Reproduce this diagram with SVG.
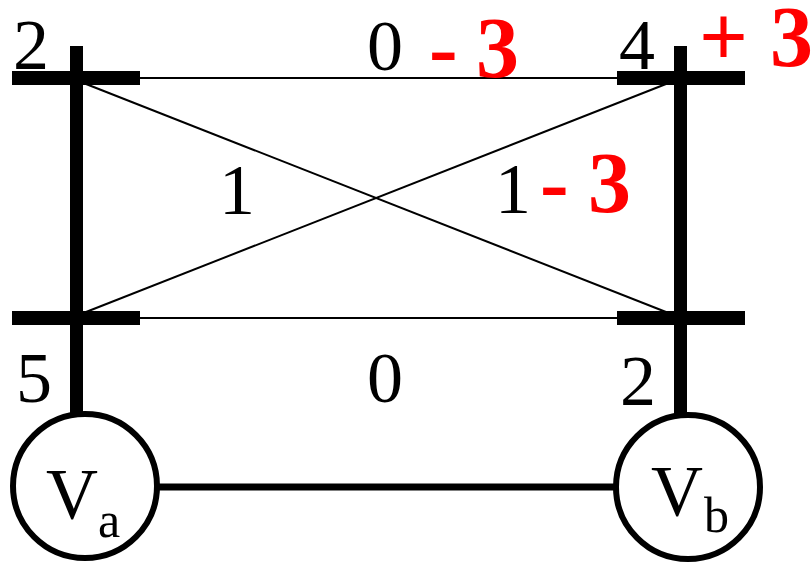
<svg xmlns="http://www.w3.org/2000/svg" width="812" height="562" viewBox="0 0 812 562">
<style>
.n{font-family:"Liberation Serif","Times New Roman",serif;font-size:72px;fill:#000}
.r{font-family:"Liberation Serif","Times New Roman",serif;font-size:86px;font-weight:bold;fill:#ff0000}
.s{font-family:"Liberation Serif","Times New Roman",serif;font-size:50px;fill:#000}
.bar{fill:#000}
.thin{stroke:#000;stroke-width:2;fill:none}
.circ{fill:#fff;stroke:#000;stroke-width:6}
</style>
<rect width="812" height="562" fill="#fff"/>
<g id="connectors">
<line class="thin" x1="140" y1="78" x2="617" y2="78"/>
<line class="thin" x1="140" y1="318" x2="617" y2="318"/>
<line class="thin" x1="86" y1="84" x2="666" y2="312"/>
<line class="thin" x1="86" y1="312" x2="666" y2="84"/>
<rect class="bar" x="70" y="46" width="13" height="368"/>
<rect class="bar" x="674" y="46" width="13" height="368"/>
<line x1="158" y1="487" x2="615" y2="487" stroke="#000" stroke-width="7"/>
</g>
<g id="bus-top-left"><rect class="bar" x="12" y="71" width="128" height="14"/></g>
<g id="bus-bottom-left"><rect class="bar" x="12" y="311" width="128" height="14"/></g>
<g id="bus-top-right"><rect class="bar" x="617" y="71" width="128" height="14"/></g>
<g id="bus-bottom-right"><rect class="bar" x="617" y="311" width="128" height="14"/></g>
<g id="node-va">
<circle class="circ" cx="85" cy="486" r="72"/>
<text class="n" x="46" y="518">V</text><text class="s" x="98" y="537">a</text>
</g>
<g id="node-vb">
<circle class="circ" cx="688" cy="487" r="72"/>
<text class="n" x="651" y="515">V</text><text class="s" x="704" y="532">b</text>
</g>
<g id="labels">
<text class="n" x="13" y="69">2</text>
<text class="n" x="367" y="70">0</text>
<text class="r" x="429" y="77">-</text>
<text class="r" x="476" y="77">3</text>
<text class="n" x="619" y="69">4</text>
<text class="r" x="699" y="66">+</text>
<text class="r" x="770" y="66">3</text>
<text class="n" x="219" y="214">1</text>
<text class="n" x="495" y="213">1</text>
<text class="r" x="540" y="212">-</text>
<text class="r" x="588" y="212">3</text>
<text class="n" x="16" y="402">5</text>
<text class="n" x="367" y="402">0</text>
<text class="n" x="620" y="405">2</text>
</g>
</svg>
